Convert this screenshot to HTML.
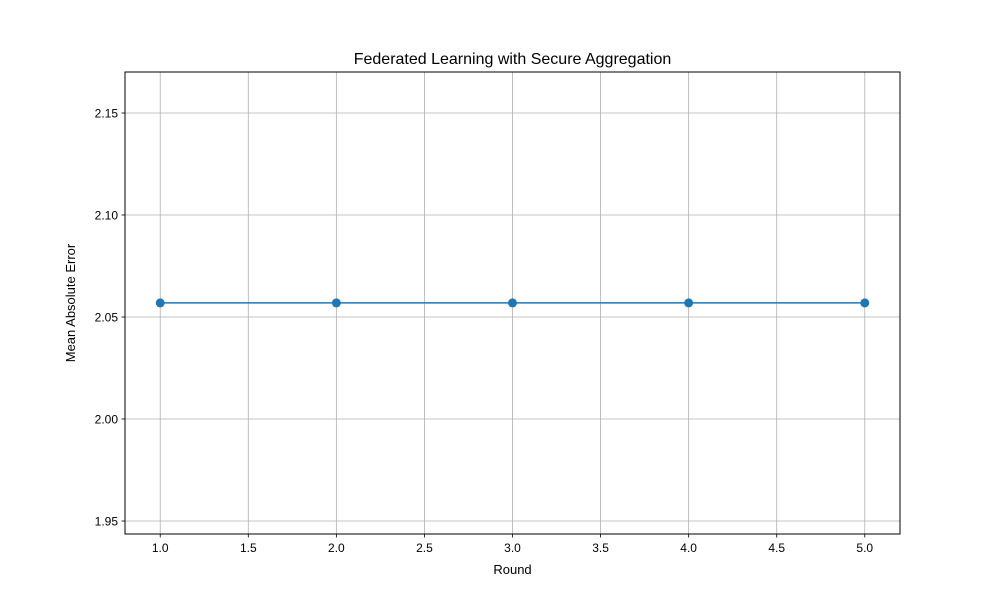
<!DOCTYPE html>
<html><head><meta charset="utf-8"><style>
body{margin:0;background:#fff;font-family:"Liberation Sans","DejaVu Sans",sans-serif}
</style></head><body>
<svg id="chart" width="1000" height="600" xmlns="http://www.w3.org/2000/svg">
<rect width="1000" height="600" fill="#fff"/>
<g id="grid"></g>
<g id="ticks"></g>
<g id="series"></g>
<rect x="125" y="72" width="775" height="462" fill="none" stroke="#000" stroke-width="1"/>
<text x="512.5" y="64" text-anchor="middle" font-size="16">Federated Learning with Secure Aggregation</text>
<text x="512.5" y="574" text-anchor="middle" font-size="13">Round</text>
<text x="75" y="303" text-anchor="middle" font-size="13" transform="rotate(-90 75 303)">Mean Absolute Error</text>
</svg>
<script>
const rounds=[1,2,3,4,5];
const maeValues=[2.0569,2.0569,2.0569,2.0569,2.0569];
const xTicks=[1.0,1.5,2.0,2.5,3.0,3.5,4.0,4.5,5.0];
const yTicks=[1.95,2.00,2.05,2.10,2.15];
const L=125,R=900,T=72,B=534;
const xMin=0.8,xMax=5.2,yMin=1.94363,yMax=2.17010;
const xs=v=>L+(v-xMin)/(xMax-xMin)*(R-L);
const ys=v=>B-(v-yMin)/(yMax-yMin)*(B-T);
const NS="http://www.w3.org/2000/svg";
function mk(t,a,p){const e=document.createElementNS(NS,t);for(const k in a)e.setAttribute(k,a[k]);p.appendChild(e);return e;}
const g=document.getElementById('grid'),tk=document.getElementById('ticks'),s=document.getElementById('series');
xTicks.forEach(v=>{const x=xs(v);
const l=mk('line',{x1:x,x2:x,y1:T,y2:B,stroke:'#b0b0b0','stroke-width':0.8},g);


const m=mk('line',{x1:x,x2:x,y1:B,y2:B+3.5,stroke:'#000','stroke-width':0.8},tk);


const t=mk('text',{x:x,y:B+18,'text-anchor':'middle','font-size':12},tk);t.textContent=v.toFixed(1);

});
yTicks.forEach(v=>{const y=ys(v);
const l=mk('line',{x1:L,x2:R,y1:y,y2:y,stroke:'#b0b0b0','stroke-width':0.8},g);


const m=mk('line',{x1:L-3.5,x2:L,y1:y,y2:y,stroke:'#000','stroke-width':0.8},tk);


const t=mk('text',{x:L-7,y:y+4.5,'text-anchor':'end','font-size':12},tk);t.textContent=v.toFixed(2);

});
const pl=mk('polyline',{points:rounds.map((r,i)=>xs(r)+','+ys(maeValues[i])).join(' '),fill:'none',stroke:'#1f77b4','stroke-width':1.5},s);


rounds.forEach((r,i)=>{const c=mk('circle',{cx:xs(r),cy:ys(maeValues[i]),r:4.5,fill:'#1f77b4'},s);

});
</script>
</body></html>
